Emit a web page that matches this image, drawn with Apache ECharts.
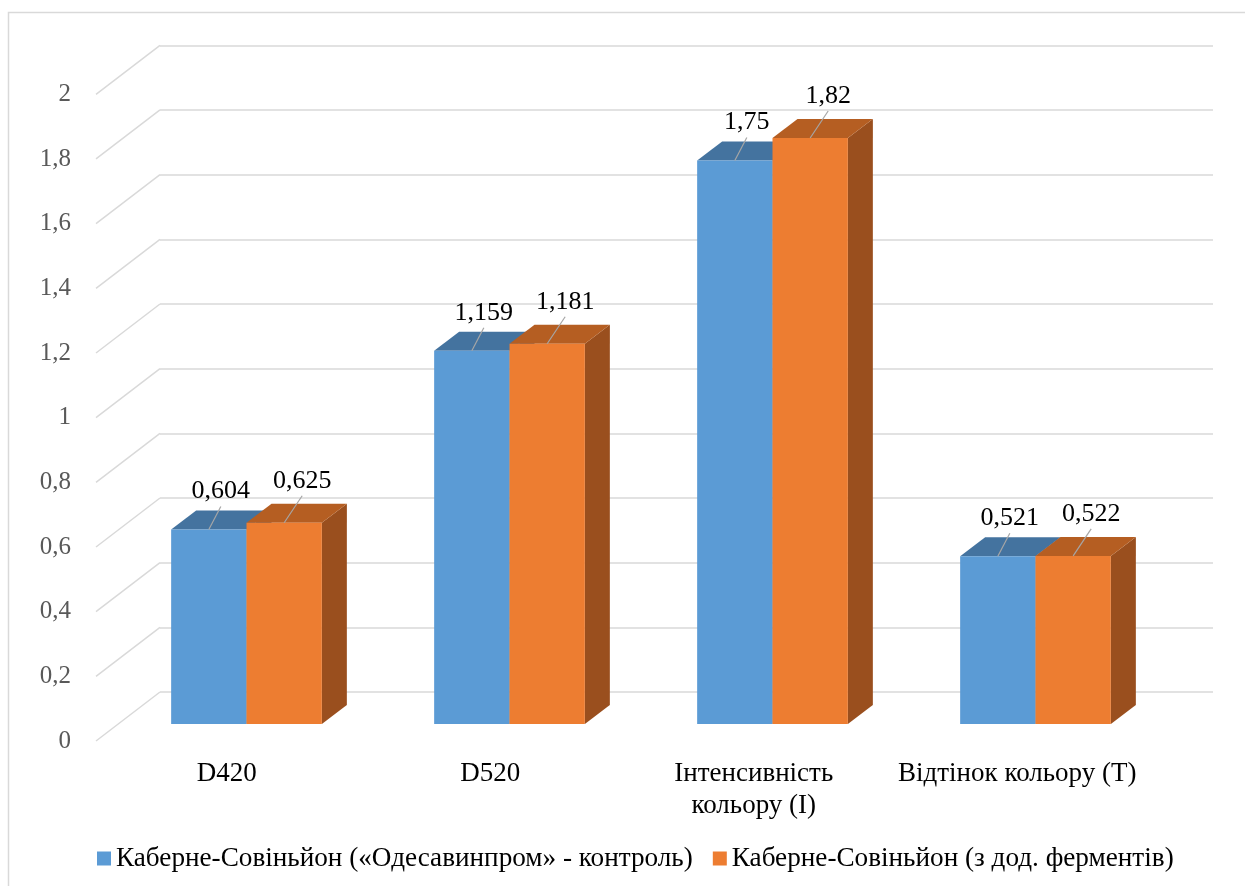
<!DOCTYPE html>
<html>
<head>
<meta charset="utf-8">
<script src="https://cdn.jsdelivr.net/npm/echarts@6/dist/echarts.min.js"></script>
<style>
  html, body { margin: 0; padding: 0; background: #fff; }
  #main { width: 1245px; height: 886px; }
</style>
</head>
<body>
<div id="main"></div>
<script>
// дані
var categories = ['D420', 'D520', 'Інтенсивність\nкольору (І)', 'Відтінок кольору (Т)'];
var seriesNames = ['Каберне-Совіньйон («Одесавинпром» - контроль)', 'Каберне-Совіньйон (з дод. ферментів)'];
var controlValues = [0.604, 1.159, 1.75, 0.521];
var enzymeValues = [0.625, 1.181, 1.82, 0.522];
var yTicks = [0, 0.2, 0.4, 0.6, 0.8, 1, 1.2, 1.4, 1.6, 1.8, 2];

var FONT = 'Liberation Serif';
var DEPTH = [25, -19];      // глибина бару
var WALL = [-64, 49];       // від задньої стінки до переднього краю
var BAR_RATIO = 0.2865;

function fmt(v) {
  return String(+(+v).toFixed(3)).replace('.', ',');
}

function barRenderer(shift, colors, lead) {
  return function (params, api) {
    var idx = api.value(0), val = api.value(1);
    var top = api.coord([idx, val]);
    var base = api.coord([idx, 0]);
    var w = api.size([1, 0])[0] * BAR_RATIO;
    var x0 = top[0] + shift * w, x1 = x0 + w;
    var y0 = top[1], yb = base[1];
    var dx = DEPTH[0], dy = DEPTH[1];
    var cx = (x0 + x1) / 2;
    var lx = cx + lead[0], ly = y0 + lead[1];
    return {
      type: 'group',
      children: [
        { type: 'polygon', shape: { points: [[x1, y0], [x1 + dx, y0 + dy], [x1 + dx, yb + dy], [x1, yb]] }, style: { fill: colors.side } },
        { type: 'polygon', shape: { points: [[x0, y0], [x0 + dx, y0 + dy], [x1 + dx, y0 + dy], [x1, y0]] }, style: { fill: colors.top } },
        { type: 'rect', shape: { x: x0, y: y0, width: w, height: yb - y0 }, style: { fill: colors.front } },
        { type: 'line', shape: { x1: cx, y1: y0, x2: lx, y2: ly }, style: { stroke: '#a6a6a6', lineWidth: 1.2 } },
        {
          type: 'text', x: lx, y: ly - 2,
          style: { text: fmt(val), fontFamily: FONT, fontSize: 26, fill: '#000', align: 'center', verticalAlign: 'bottom' }
        }
      ]
    };
  };
}

var myChart = echarts.init(document.getElementById('main'));
myChart.setOption({
  animation: false,
  textStyle: { fontFamily: FONT },
  graphic: [{
    type: 'rect',
    shape: { x: 8.5, y: 12.5, width: 1400, height: 1000 },
    style: { fill: 'none', stroke: '#d9d9d9', lineWidth: 1.5 },
    silent: true
  }],
  legend: {
    data: seriesNames,
    left: 97,
    top: 845,
    padding: 0,
    icon: 'rect',
    itemWidth: 14,
    itemHeight: 14,
    itemGap: 20,
    textStyle: { fontSize: 27.2, color: '#000', fontFamily: FONT }
  },
  grid: [
    // задня стінка
    { left: 160, right: 32, top: 45.3, bottom: 194 },
    // передній край
    { left: 95, right: 96, top: 94.3, bottom: 145 },
    // передня площина барів
    { left: 115, right: 78, top: 80, bottom: 162 }
  ],
  xAxis: [
    { gridIndex: 0, type: 'value', min: 0, max: 1, show: false },
    {
      gridIndex: 1, type: 'category', data: categories,
      axisLine: { show: false }, axisTick: { show: false },
      axisLabel: { interval: 0, margin: 17, fontSize: 27, lineHeight: 32, color: '#000', fontFamily: FONT }
    },
    { gridIndex: 2, type: 'category', data: categories, show: false }
  ],
  yAxis: [
    {
      gridIndex: 0, type: 'value', min: 0, max: 2, interval: 0.2,
      axisLine: { show: false }, axisTick: { show: false }, axisLabel: { show: false },
      splitLine: { show: true, lineStyle: { color: '#d9d9d9', width: 1.5 } }
    },
    {
      gridIndex: 1, type: 'value', min: 0, max: 2, interval: 0.2,
      axisLine: { show: false }, axisTick: { show: false }, splitLine: { show: false },
      axisLabel: { margin: 24, fontSize: 25, color: '#595959', fontFamily: FONT, formatter: fmt }
    },
    { gridIndex: 2, type: 'value', min: 0, max: 2, show: false }
  ],
  series: [
    {
      type: 'custom',
      xAxisIndex: 0, yAxisIndex: 0,
      silent: true,
      data: yTicks.map(function (v) { return [0, v]; }),
      renderItem: function (params, api) {
        var p = api.coord([0, api.value(1)]);
        return {
          type: 'line',
          shape: { x1: p[0], y1: p[1], x2: p[0] + WALL[0], y2: p[1] + WALL[1] },
          style: { stroke: '#d9d9d9', lineWidth: 1.5 }
        };
      },
      z: 1
    },
    {
      name: seriesNames[0],
      type: 'custom',
      xAxisIndex: 2, yAxisIndex: 2,
      itemStyle: { color: '#5b9bd5' },
      data: controlValues.map(function (v, i) { return [i, v]; }),
      renderItem: barRenderer(-1, { front: '#5b9bd5', top: '#44739f', side: '#3e6c96' }, [12, -23]),
      z: 3
    },
    {
      name: seriesNames[1],
      type: 'custom',
      xAxisIndex: 2, yAxisIndex: 2,
      itemStyle: { color: '#ed7d31' },
      data: enzymeValues.map(function (v, i) { return [i, v]; }),
      renderItem: barRenderer(0, { front: '#ed7d31', top: '#b55e22', side: '#9a4f1e' }, [18, -27]),
      z: 4
    }
  ]
});
window.addEventListener('resize', function () {
  myChart.resize();
});
</script>
</body>
</html>
